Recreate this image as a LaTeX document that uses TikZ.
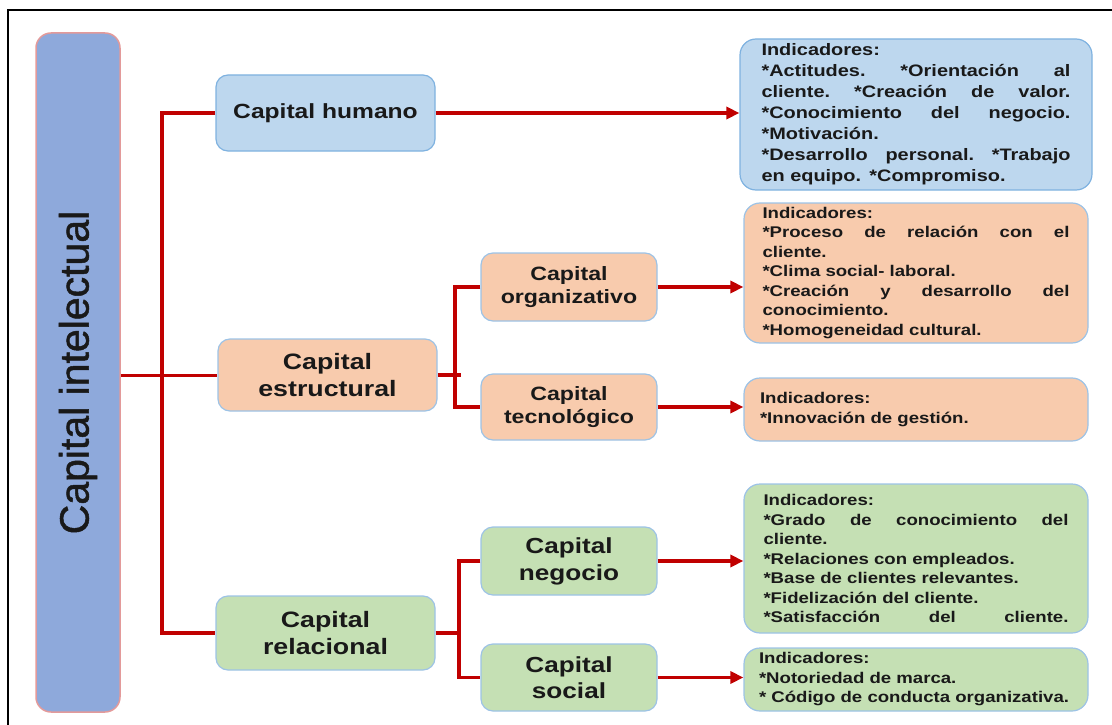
\documentclass[tikz,border=0pt]{standalone}
\usepackage{fontspec}
\setmainfont{Liberation Sans}
\newfontfamily\widesans[FakeStretch=1.2]{Liberation Sans}
\newfontfamily\titlesans[FakeBold=1.2]{Liberation Sans}
\usetikzlibrary{arrows.meta}

\definecolor{mainfill}{HTML}{8EA9DB}
\definecolor{mainedge}{HTML}{E39A9A}
\definecolor{bluefill}{HTML}{BDD7EE}
\definecolor{blueedge}{HTML}{7FB2E0}
\definecolor{orangefill}{HTML}{F8CBAD}
\definecolor{greenfill}{HTML}{C5E0B4}
\definecolor{softedge}{HTML}{9DC3E6}
\definecolor{linkred}{HTML}{C00000}

\newcommand\setfs[2]{\fontsize{#1}{#2}\selectfont}
% a justified line of given width: words separated by \hfill
\newcommand\jline[2]{\leavevmode\hbox to #1{#2}}

\begin{document}
\begin{tikzpicture}[x=1pt,y=-1pt,
  capbox/.style={draw=softedge, line width=1.2pt, rounded corners=12pt,
    align=center, inner sep=0pt, text=black!90},
  indbox/.style={draw=softedge, line width=1.2pt, rounded corners=16pt,
    align=left, inner sep=0pt, text=black!90,
    font=\widesans\bfseries\setfs{15.5}{19.5}},
  link/.style={draw=linkred, line width=3.6pt},
  thinlink/.style={draw=linkred, line width=3pt},
  arrowlink/.style={link, -{Triangle[length=13pt,width=12pt]}},
]
\useasboundingbox (0,0) rectangle (1112,725);

% page frame
\draw[line width=1.6pt] (8,725) -- (8,10) -- (1112,10);

% root
\node[draw=mainedge, fill=mainfill, line width=1.5pt, rounded corners=15pt,
  minimum width=84pt, minimum height=679pt, inner sep=0pt, text=black!90,
  font=\titlesans\setfs{41}{48}] (main) at (78,372.5) {\rotatebox{90}{Capital intelectual}};

% first level
\node[capbox, draw=blueedge, fill=bluefill, minimum width=219pt, minimum height=76pt,
  font=\widesans\bfseries\setfs{20.5}{25}] (hum) at (325.5,113) {Capital humano};
\node[capbox, fill=orangefill, minimum width=219pt, minimum height=72pt,
  font=\widesans\bfseries\setfs{22.3}{27}] (est) at (327.5,375) {Capital\\estructural};
\node[capbox, fill=greenfill, minimum width=219pt, minimum height=74pt,
  font=\widesans\bfseries\setfs{22.3}{27}] (rel) at (325.5,633) {Capital\\relacional};

% second level
\node[capbox, fill=orangefill, minimum width=176pt, minimum height=68pt,
  font=\widesans\bfseries\setfs{19.3}{23.5}] (org) at (569,287) {Capital\\organizativo};
\node[capbox, fill=orangefill, minimum width=176pt, minimum height=66pt,
  font=\widesans\bfseries\setfs{19.3}{23.5}] (tec) at (569,407) {Capital\\tecnológico};
\node[capbox, fill=greenfill, minimum width=176pt, minimum height=68pt,
  font=\widesans\bfseries\setfs{21.8}{27}] (neg) at (569,561) {Capital\\negocio};
\node[capbox, fill=greenfill, minimum width=176pt, minimum height=67pt,
  font=\widesans\bfseries\setfs{21.8}{26}] (soc) at (569,677.5) {Capital\\social};

% indicator boxes
\node[indbox, draw=blueedge, fill=bluefill, minimum width=352pt, minimum height=151pt,
  text width=309pt, font=\widesans\bfseries\setfs{16.6}{21}] (humInd) at (916,114.5) {%
  Indicadores:\\
  \jline{309pt}{*Actitudes.\hfill*Orientación\hfill al}\\
  \jline{309pt}{cliente.\hfill*Creación\hfill de\hfill valor.}\\
  \jline{309pt}{*Conocimiento\hfill del\hfill negocio.}\\
  {}*Motivación.\\
  \jline{309pt}{*Desarrollo\hfill personal.\hfill*Trabajo}\\
  en equipo. *Compromiso.};

\node[indbox, fill=orangefill, minimum width=344pt, minimum height=140pt,
  text width=307pt] (orgInd) at (916,273) {%
  Indicadores:\\
  \jline{307pt}{*Proceso\hfill de\hfill relación\hfill con\hfill el}\\
  cliente.\\
  {}*Clima social- laboral.\\
  \jline{307pt}{*Creación\hfill y\hfill desarrollo\hfill del}\\
  conocimiento.\\
  {}*Homogeneidad cultural.};

\node[indbox, fill=orangefill, minimum width=344pt, minimum height=63pt,
  text width=312pt] (tecInd) at (916,409.5) {%
  Indicadores:\\
  {}*Innovación de gestión.};

\node[indbox, fill=greenfill, minimum width=344pt, minimum height=149pt,
  text width=305pt] (negInd) at (916,558.5) {%
  Indicadores:\\
  \jline{305pt}{*Grado\hfill de\hfill conocimiento\hfill del}\\
  cliente.\\
  {}*Relaciones con empleados.\\
  {}*Base de clientes relevantes.\\
  {}*Fidelización del cliente.\\
  \jline{305pt}{*Satisfacción\hfill del\hfill cliente.}};

\node[indbox, fill=greenfill, minimum width=344pt, minimum height=63pt,
  text width=314pt] (socInd) at (916,679.5) {%
  Indicadores:\\
  {}*Notoriedad de marca.\\
  {}* Código de conducta organizativa.};

% junction columns
\coordinate (jM) at (162,0);
\coordinate (jE) at (455,0);
\coordinate (jR) at (459,0);

% root to first level
\draw[thinlink] (main.east |- est.west) -- (est.west);
\draw[link] (hum.west) -- (jM |- hum.west) -- (jM |- rel.west) -- (rel.west);

% structural branch
\draw[link] (est.east) -- ([xshift=6pt]jE |- est.east);
\draw[link] (org.west) -- (jE |- org.west) -- (jE |- tec.west) -- (tec.west);

% relational branch
\draw[link] (rel.east) -- (jR |- rel.east);
\draw[link] (neg.west) -- (jR |- neg.west) -- (jR |- soc.west) -- (soc.west);

% arrows to indicators
\draw[arrowlink] (hum.east) -- (humInd.west |- hum.east);
\draw[arrowlink] (org.east) -- (orgInd.west |- org.east);
\draw[arrowlink] (tec.east) -- (tecInd.west |- tec.east);
\draw[arrowlink] (neg.east) -- (negInd.west |- neg.east);
\draw[arrowlink] (soc.east) -- (socInd.west |- soc.east);
\end{tikzpicture}
\end{document}
